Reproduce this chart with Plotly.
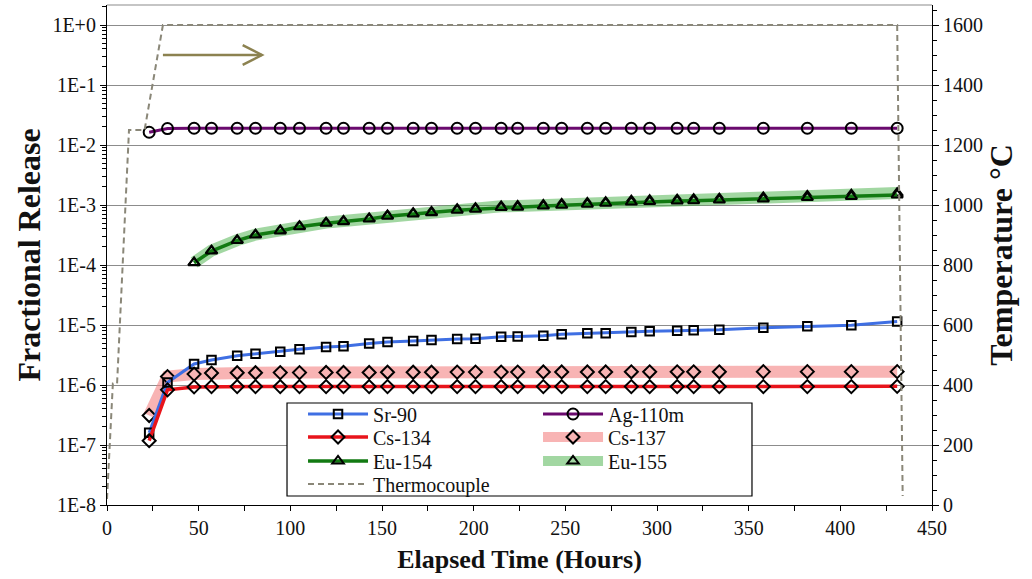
import plotly.graph_objects as go

# ---------------- data ----------------
hours = [23, 33, 47.5, 57, 71, 81, 94.5, 105, 119.5, 129, 143, 153, 167, 177, 191, 201,
         215, 224, 238, 248, 262, 272, 286, 296, 311, 320, 334, 358, 382, 406, 431]

sr90 = [1.6e-7, 1.1e-6, 2.24e-6, 2.61e-6, 3.08e-6, 3.32e-6, 3.59e-6, 3.94e-6, 4.30e-6, 4.41e-6,
        4.92e-6, 5.21e-6, 5.41e-6, 5.62e-6, 5.84e-6, 5.90e-6, 6.38e-6, 6.45e-6, 6.63e-6, 7.0e-6,
        7.27e-6, 7.30e-6, 7.64e-6, 7.85e-6, 8.04e-6, 8.20e-6, 8.30e-6, 9.02e-6, 9.51e-6, 9.88e-6, 1.14e-5]

ag110m = [0.0163, 0.0188, 0.019, 0.019, 0.019, 0.019, 0.019, 0.019, 0.019, 0.019,
          0.019, 0.019, 0.019, 0.019, 0.019, 0.019, 0.019, 0.019, 0.019, 0.019,
          0.019, 0.019, 0.019, 0.019, 0.019, 0.019, 0.019, 0.019, 0.019, 0.019, 0.019]

cs134 = [1.18e-7, 8.3e-7, 9.3e-7, 9.4e-7, 9.4e-7, 9.4e-7, 9.4e-7, 9.4e-7, 9.4e-7, 9.4e-7,
         9.4e-7, 9.4e-7, 9.4e-7, 9.4e-7, 9.4e-7, 9.4e-7, 9.4e-7, 9.4e-7, 9.4e-7, 9.4e-7,
         9.4e-7, 9.4e-7, 9.4e-7, 9.4e-7, 9.4e-7, 9.4e-7, 9.4e-7, 9.4e-7, 9.4e-7, 9.4e-7, 9.5e-7]

cs137 = [3.1e-7, 1.38e-6, 1.52e-6, 1.58e-6, 1.60e-6, 1.60e-6, 1.61e-6, 1.61e-6, 1.62e-6, 1.62e-6,
         1.62e-6, 1.63e-6, 1.63e-6, 1.63e-6, 1.64e-6, 1.64e-6, 1.64e-6, 1.64e-6, 1.65e-6, 1.65e-6,
         1.65e-6, 1.65e-6, 1.66e-6, 1.66e-6, 1.66e-6, 1.66e-6, 1.66e-6, 1.67e-6, 1.67e-6, 1.67e-6, 1.67e-6]

eu154 = [None, None, 1.09e-4, 1.71e-4, 2.55e-4, 3.16e-4, 3.69e-4, 4.35e-4, 4.95e-4, 5.27e-4,
         5.84e-4, 6.5e-4, 7.1e-4, 7.4e-4, 8.2e-4, 8.5e-4, 9.1e-4, 9.2e-4, 9.6e-4, 9.9e-4,
         1.03e-3, 1.07e-3, 1.12e-3, 1.14e-3, 1.17e-3, 1.18e-3, 1.21e-3, 1.26e-3, 1.33e-3, 1.39e-3, 1.47e-3]

eu155 = [None, None, 1.10e-4, 1.74e-4, 2.60e-4, 3.22e-4, 3.78e-4, 4.45e-4, 5.08e-4, 5.42e-4,
         6.0e-4, 6.7e-4, 7.35e-4, 7.68e-4, 8.5e-4, 8.85e-4, 9.5e-4, 9.62e-4, 1.0e-3, 1.04e-3,
         1.08e-3, 1.12e-3, 1.18e-3, 1.20e-3, 1.23e-3, 1.25e-3, 1.28e-3, 1.34e-3, 1.42e-3, 1.49e-3, 1.58e-3]

tc_hours = [0, 3.2, 5.5, 12, 20.5, 30.5, 431, 434]
tc_temp = [20, 405, 405, 1250, 1250, 1600, 1600, 30]

y_tickvals = [1, 1e-1, 1e-2, 1e-3, 1e-4, 1e-5, 1e-6, 1e-7, 1e-8]
y_ticktext = ["1E+0", "1E-1", "1E-2", "1E-3", "1E-4", "1E-5", "1E-6", "1E-7", "1E-8"]

# arrow (pointing to right axis) in data units: hours / deg C
arrow_x = [30.5, 84.5]
arrow_y = 1500
arrow_head_dx = 10.5
arrow_head_dy = 33

FONT = "Liberation Serif, Times New Roman, serif"
MK = dict(color="black", line=dict(width=2))

fig = go.Figure()

# bands first (underneath)
fig.add_trace(go.Scatter(x=hours, y=cs137, name="Cs-137", mode="lines+markers",
                         line=dict(color="rgba(244,130,130,0.6)", width=12),
                         marker=dict(symbol="diamond-open", size=10, **MK),
                         legend="legend2", legendrank=4))
fig.add_trace(go.Scatter(x=hours, y=eu155, name="Eu-155", mode="lines+markers",
                         line=dict(color="rgba(70,175,70,0.5)", width=12),
                         marker=dict(symbol="triangle-up-open", size=10, **MK),
                         legend="legend3", legendrank=6))
fig.add_trace(go.Scatter(x=hours, y=sr90, name="Sr-90", mode="lines+markers",
                         line=dict(color="#3F6FE3", width=3),
                         marker=dict(symbol="square-open", size=8.5, **MK),
                         legend="legend", legendrank=1))
fig.add_trace(go.Scatter(x=hours, y=ag110m, name="Ag-110m", mode="lines+markers",
                         line=dict(color="#6A0A6E", width=3),
                         marker=dict(symbol="circle-open", size=11, **MK),
                         legend="legend", legendrank=2))
fig.add_trace(go.Scatter(x=hours, y=cs134, name="Cs-134", mode="lines+markers",
                         line=dict(color="#E8141B", width=3.5),
                         marker=dict(symbol="diamond-open", size=10, **MK),
                         legend="legend2", legendrank=3))
fig.add_trace(go.Scatter(x=hours, y=eu154, name="Eu-154", mode="lines+markers",
                         line=dict(color="#127A12", width=3.5),
                         marker=dict(symbol="triangle-up-open", size=10, **MK),
                         legend="legend3", legendrank=5))
fig.add_trace(go.Scatter(x=tc_hours, y=tc_temp, name="Thermocouple", mode="lines",
                         line=dict(color="#8A8778", width=2, dash="6px,4px"),
                         yaxis="y2", legend="legend4", legendrank=7))

tickfont = dict(family=FONT, size=20, color="#111")
xtitlefont = dict(family=FONT, size=26, color="#111")
ytitlefont = dict(family=FONT, size=32, color="#111")


def row_legend(center_px):
    return dict(x=0.2376, y=(505 - center_px) / 500, xanchor="left", yanchor="middle",
                orientation="h", bgcolor="rgba(0,0,0,0)", borderwidth=0, itemwidth=60,
                entrywidth=160, entrywidthmode="pixels",
                font=dict(family=FONT, size=20, color="#111"))


fig.update_layout(
    width=1032, height=579,
    margin=dict(l=107, r=100, t=5, b=74, autoexpand=False),
    font=dict(family=FONT, color="#111"),
    paper_bgcolor="white", plot_bgcolor="white",
    showlegend=True,
    xaxis=dict(range=[0, 450], dtick=50, tick0=0, showgrid=False, zeroline=False,
               showline=True, linecolor="black", linewidth=1.2,
               ticks="outside", ticklen=5, tickcolor="black",
               minor=dict(dtick=25, ticks="outside", ticklen=5, tickcolor="black", showgrid=False),
               tickfont=tickfont,
               title=dict(text="<b>Elapsed Time (Hours)</b>", font=xtitlefont, standoff=11)),
    yaxis=dict(type="log", range=[-8, 0.3333], tickmode="array",
               tickvals=y_tickvals, ticktext=y_ticktext,
               showgrid=True, gridcolor="#8c8c8c", gridwidth=1, zeroline=False,
               showline=True, linecolor="black", linewidth=1.2,
               ticks="outside", ticklen=6, tickcolor="black",
               minor=dict(dtick="D1", ticks="outside", ticklen=4, tickcolor="black", showgrid=False),
               tickfont=tickfont,
               title=dict(text="<b>Fractional Release</b>", font=ytitlefont, standoff=2)),
    yaxis2=dict(overlaying="y", side="right", range=[0, 1666.67], dtick=200, tick0=0,
                showgrid=False, zeroline=False,
                showline=True, linecolor="black", linewidth=1.2,
                ticks="outside", ticklen=6, tickcolor="black",
                minor=dict(dtick=50, ticks="outside", ticklen=4, tickcolor="black", showgrid=False),
                tickfont=tickfont,
                title=dict(text="<b>Temperature °C</b>", font=ytitlefont, standoff=4)),
    legend=row_legend(414),
    legend2=row_legend(437),
    legend3=row_legend(461),
    legend4=row_legend(484),
    shapes=[
        # top frame line
        dict(type="line", xref="paper", yref="paper", x0=0, x1=1, y0=1, y1=1,
             line=dict(color="#8c8c8c", width=1.2)),
        # legend box
        dict(type="rect", xref="paper", yref="paper", x0=0.2182, x1=0.7818, y0=0.018, y1=0.204,
             fillcolor="white", line=dict(color="black", width=1.2), layer="above"),
        # arrow shaft and head
        dict(type="line", xref="x", yref="y2", x0=arrow_x[0], x1=arrow_x[1], y0=arrow_y, y1=arrow_y,
             line=dict(color="#8C8250", width=2.5)),
        dict(type="path", xref="x", yref="y2",
             path=f"M {arrow_x[1]-arrow_head_dx},{arrow_y+arrow_head_dy} L {arrow_x[1]},{arrow_y} L {arrow_x[1]-arrow_head_dx},{arrow_y-arrow_head_dy}",
             line=dict(color="#8C8250", width=2.5)),
    ],
)

fig.write_html("out.html", config={"displayModeBar": False},
               post_script="document.body.style.margin='0px';")
